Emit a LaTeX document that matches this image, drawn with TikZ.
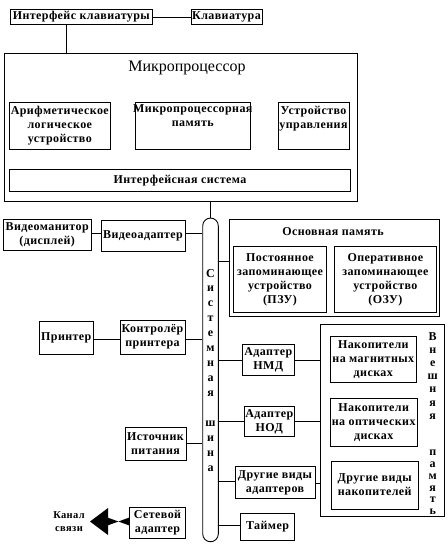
\documentclass[tikz,border=0pt]{standalone}
\usepackage{fontspec}
\setmainfont{Liberation Serif}
\newfontfamily\boxfont[LetterSpace=3.5]{Liberation Serif}
\newcommand{\myfs}{\boxfont\fontsize{12}{14}\selectfont\bfseries}
\newcommand{\mysmall}{\boxfont\fontsize{10.5}{13}\selectfont\bfseries}
\begin{document}
\begin{tikzpicture}[x=1pt,y=-1pt,line width=0.9pt,
  box/.style={draw, inner sep=0pt, align=center, font=\myfs},
  txt/.style={inner sep=0pt, align=center, font=\myfs},
  conn/.style={draw, line width=0.9pt}]
\useasboundingbox (0,0) rectangle (447,548);
% keyboard
\node[box, minimum width=141.3pt, minimum height=15.4pt] (kbdif) at (81.3,17) {Интерфейс клавиатуры};
\node[box, minimum width=71pt, minimum height=15.2pt] (kbd) at (226.5,17) {Клавиатура};
% microprocessor
\node[box, minimum width=353pt, minimum height=148.4pt] (mp) at (180.5,127.5) {};
\node[txt, font=\fontsize{16}{18}\selectfont] (mptitle) at (187,68) {Микропроцессор};
\node[box, minimum width=101.7pt, minimum height=47.3pt] (alu) at (59.8,125.7) {Арифметическое\\логическое\\устройство};
\node[box, minimum width=115.7pt, minimum height=47.3pt] (mpmem) at (192.8,125.7) {};
\node[txt, anchor=north] (mpmemt) at ([yshift=-3pt]mpmem.north) {Микропроцессорная\\память};
\node[box, minimum width=71pt, minimum height=47.3pt] (cu) at (313.5,125.7) {};
\node[txt, anchor=north] (cut) at ([yshift=-4pt]cu.north) {Устройство\\управления};
\node[box, minimum width=341.4pt, minimum height=21.7pt] (ifsys) at (180,180.2) {Интерфейсная система};
% bus
\node[draw, rounded corners=7.8pt, inner sep=0pt, minimum width=15.6pt, minimum height=323.7pt] (bus) at (210.5,379.9) {};
\foreach \l [count=\i from 0] in {С,и,с,т,е,м,н,а,я,{},ш,и,н,а}
  \node[txt] at (210.5,274+\i*15) {\l};
% video
\node[box, minimum width=87.7pt, minimum height=31.7pt] (vmon) at (47.2,234.9) {Видеоманитор\\(дисплей)};
\node[box, minimum width=84pt, minimum height=31.7pt] (vad) at (143,235.9) {Видеоадаптер};
% main memory
\node[box, minimum width=210pt, minimum height=97pt] (mainmem) at (334.3,267.5) {};
\node[txt] (mmt) at (333,232) {Основная память};
\node[box, minimum width=93.4pt, minimum height=66pt] (rom) at (280,279.7) {Постоянное\\запоминающее\\устройство\\(ПЗУ)};
\node[box, minimum width=102.7pt, minimum height=66pt] (ram) at (385.4,279.7) {Оперативное\\запоминающее\\устройство\\(ОЗУ)};
% printer
\node[box, minimum width=54pt, minimum height=33.3pt] (printer) at (66.3,337.7) {Принтер};
\node[box, minimum width=65pt, minimum height=34pt] (pctrl) at (152.5,337) {Контролёр\\принтера};
% adapters
\node[box, minimum width=52pt, minimum height=31pt] (nmd) at (268.3,359.5) {Адаптер\\НМД};
\node[box, minimum width=50pt, minimum height=30.7pt] (nod) at (269.3,421.4) {Адаптер\\НОД};
\node[box, minimum width=80pt, minimum height=31.6pt] (oadp) at (275,482.5) {Другие виды\\адаптеров};
\node[box, minimum width=53.6pt, minimum height=26.7pt] (timer) at (267.5,526.7) {Таймер};
% external memory
\node[box, minimum width=124pt, minimum height=192.4pt] (ext) at (382,420.5) {};
\node[box, minimum width=86.7pt, minimum height=46.3pt] (mag) at (373.3,359.2) {Накопители\\на магнитных\\дисках};
\node[box, minimum width=87.3pt, minimum height=47.7pt] (opt) at (373.7,422.2) {Накопители\\на оптических\\дисках};
\node[box, minimum width=87.3pt, minimum height=48pt] (ostor) at (374.7,485) {Другие виды\\накопителей};
\foreach \l [count=\i from 0] in {В,н,е,ш,н,я,я}
  \node[txt] at (432.7,337+\i*13.3) {\l};
\foreach \l [count=\i from 0] in {п,а,м,я,т,ь}
  \node[txt] at (432.7,453+\i*11.8) {\l};
% power, network
\node[box, minimum width=61pt, minimum height=33.4pt] (power) at (155.5,444) {Источник\\питания};
\node[box, minimum width=56.4pt, minimum height=31pt] (net) at (157.5,522.8) {Сетевой\\адаптер};
\node[txt, font=\mysmall] (chan) at (69,521.5) {Канал\\связи};
\coordinate (tip) at (90,521.5);
\fill ([yshift=-3.8pt]net.west |- tip) -- (108,517.7) -- (108,508) -- (tip) -- (108,535) -- (108,525.3) -- ([yshift=3.8pt]net.west |- tip) -- cycle;
% connectors
\draw (kbdif.east) -- (kbd.west);
\draw ([xshift=-14.6pt]kbdif.south) -- ([xshift=-14.6pt]kbdif.south |- mp.north);
\draw (mp.south -| bus.north) -- (bus.north);
\draw (vmon.east |- 0,233) -- (vad.west |- 0,233);
\draw (vad.east |- 0,233) -- (bus.west |- 0,233);
\draw (bus.east |- 0,261.7) -- (mainmem.west |- 0,261.7);
\draw (printer.east |- 0,339) -- (pctrl.west |- 0,339);
\draw (pctrl.east |- 0,339) -- (bus.west |- 0,339);
\draw (bus.east |- 0,360) -- (nmd.west |- 0,360);
\draw (nmd.east |- 0,360) -- (ext.west |- 0,360);
\draw (bus.east |- 0,421.7) -- (nod.west |- 0,421.7);
\draw (nod.east |- 0,421.7) -- (ext.west |- 0,421.7);
\draw (bus.east |- 0,481.7) -- (oadp.west |- 0,481.7);
\draw (oadp.east |- 0,483) -- (ext.west |- 0,483);
\draw (bus.east |- 0,525.7) -- (timer.west |- 0,525.7);
\draw (power.east |- 0,443) -- (bus.west |- 0,443);
\end{tikzpicture}
\end{document}
